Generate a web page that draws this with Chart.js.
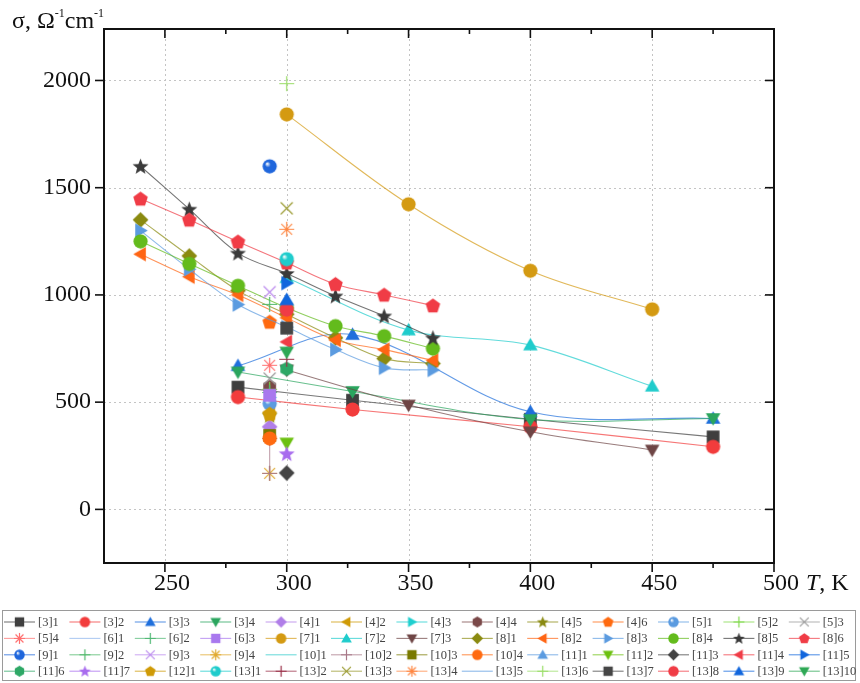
<!DOCTYPE html>
<html><head><meta charset="utf-8">
<script src="https://cdn.jsdelivr.net/npm/chart.js@4"></script>
<style>html,body{margin:0;padding:0;background:#fff}#wrap{width:860px;height:683px;position:relative}</style>
</head><body><div id="wrap"><canvas id="c" width="860" height="683"></canvas></div>
<script>
// ---------- data ----------
const xTicks = [250, 300, 350, 400, 450, 500];
const xMinor = [275, 325, 375, 425, 475];
const yTicks = [0, 500, 1000, 1500, 2000];

const T3 = [280, 327, 400, 475];
const s3_1 = [570, 509, 420, 338];
const s3_2 = [524, 466, 385, 292];
const s3_3 = [670, 815, 455, 424];
const s3_4 = [641, 550, 419, 424];

const T7 = [300, 350, 400, 450];
const s7_1 = [1842, 1423, 1113, 933];
const s7_2 = [1080, 836, 766, 574];
const s7_3 = [650, 487, 362, 277];

const T8 = [240, 260, 280, 300, 320, 340, 360];
const s8_1 = [1350, 1182, 1020, 910, 800, 703, 680];
const s8_2 = [1190, 1085, 1000, 893, 790, 745, 695];
const s8_3 = [1300, 1120, 955, 850, 745, 660, 650];
const s8_4 = [1250, 1145, 1043, 940, 855, 808, 750];
const s8_5 = [1600, 1400, 1195, 1100, 995, 902, 800];
const s8_6 = [1448, 1350, 1248, 1150, 1050, 1000, 950];

const T293 = [293];
const T300 = [300];
const s4_1 = [385], s4_2 = [450], s4_3 = [522], s4_4 = [571], s4_5 = [439], s4_6 = [874];
const s5_1 = [493], s5_2 = [560], s5_3 = [610], s5_4 = [672];
const s6_2 = [545], s6_3 = [532];
const s9_1 = [1600], s9_2 = [956], s9_3 = [1013], s9_4 = [168];
const T10_2 = [293, 293], s10_2 = [331, 168];
const s10_3 = [345], s10_4 = [331];
const s11_1 = [975], s11_2 = [310], s11_3 = [170], s11_4 = [781], s11_5 = [1055], s11_6 = [655], s11_7 = [260];
const s12_1 = [445];
const s13_1 = [1167], s13_2 = [700], s13_3 = [1404], s13_4 = [1306], s13_6 = [1985];
const s13_7 = [845], s13_8 = [932], s13_9 = [977], s13_10 = [734];
const none = [];

const names = ['[3]1','[3]2','[3]3','[3]4','[4]1','[4]2','[4]3','[4]4','[4]5','[4]6','[5]1','[5]2','[5]3',
 '[5]4','[6]1','[6]2','[6]3','[7]1','[7]2','[7]3','[8]1','[8]2','[8]3','[8]4','[8]5','[8]6',
 '[9]1','[9]2','[9]3','[9]4','[10]1','[10]2','[10]3','[10]4','[11]1','[11]2','[11]3','[11]4','[11]5',
 '[11]6','[11]7','[12]1','[13]1','[13]2','[13]3','[13]4','[13]5','[13]6','[13]7','[13]8','[13]9','[13]10'];
const xs = [T3,T3,T3,T3,T293,T293,T293,T293,T293,T293,T293,T293,T293,
 T293,none,T293,T293,T7,T7,T7,T8,T8,T8,T8,T8,T8,
 T293,T293,T293,T293,none,T10_2,T293,T293,T300,T300,T300,T300,T300,
 T300,T300,T293,T300,T300,T300,T300,none,T300,T300,T300,T300,T300];
const ys = [s3_1,s3_2,s3_3,s3_4,s4_1,s4_2,s4_3,s4_4,s4_5,s4_6,s5_1,s5_2,s5_3,
 s5_4,none,s6_2,s6_3,s7_1,s7_2,s7_3,s8_1,s8_2,s8_3,s8_4,s8_5,s8_6,
 s9_1,s9_2,s9_3,s9_4,none,s10_2,s10_3,s10_4,s11_1,s11_2,s11_3,s11_4,s11_5,
 s11_6,s11_7,s12_1,s13_1,s13_2,s13_3,s13_4,none,s13_6,s13_7,s13_8,s13_9,s13_10];

// ---------- styles ----------
const shapes = ['square','circle','triUp','triDown','diamond','triLeft','triRight','hexagon','star5','pentagon','sphere','plus','cross',
 'asterisk','none','plus','square','circle','triUp','triDown','diamond','triLeft','triRight','circle','star5','pentagon',
 'sphere','plus','cross','asterisk','none','plus','square','circle','triUp','triDown','diamond','triLeft','triRight',
 'hexagon','star5','pentagon','sphere','plus','cross','asterisk','none','plus','square','circle','triUp','triDown'];
const colors = ['#3f3f3f','#f23c3c','#1f6fdc','#2aa55e','#b07ee8','#cf9a06','#1fcfcf','#7a4848','#8a8a12','#ff6a10','#5b9be0','#7fd84a','#9a9a9a',
 '#ff7070','#8fb5ec','#4fb874','#a878ee','#d49a12','#1fcccc','#6e4545','#8a8a10','#ff6514','#5b9be0','#63bb1c','#3a3a3a','#f03c46',
 '#1f66dc','#4fb86a','#bb8aee','#e0aa30','#33cccc','#a87888','#7a7a00','#ff6a10','#5b9be0','#6cc010','#444444','#f03c46','#1166dd',
 '#2ea866','#a86cee','#cf9a06','#1fcccc','#9a3048','#9a9a30','#ff8844','#5b9be0','#99dd66','#454545','#f03c46','#1166dd','#2ea855'];

function makeMarker(shape, color, size){
  if (shape === 'none') return false;
  const pad = 2, S = Math.ceil(size + pad*2);
  const cv = document.createElement('canvas'); cv.width = S; cv.height = S;
  const g = cv.getContext('2d'); const c = S/2, r = size/2;
  g.fillStyle = color; g.strokeStyle = color; g.lineWidth = 1.2;
  const poly = (n, rot, rr, dy) => { g.beginPath();
    for (let i=0;i<n;i++){ const a = rot + i*2*Math.PI/n; const px = c + rr*Math.cos(a), py = c + (dy||0) + rr*Math.sin(a); i ? g.lineTo(px,py) : g.moveTo(px,py); }
    g.closePath(); g.fill(); };
  switch(shape){
    case 'square': g.fillRect(c-r*0.85, c-r*0.85, r*1.7, r*1.7); break;
    case 'circle': g.beginPath(); g.arc(c,c,r*0.95,0,2*Math.PI); g.fill(); break;
    case 'triUp': poly(3,-Math.PI/2,r*1.12,r*0.15); break;
    case 'triDown': poly(3,Math.PI/2,r*1.12,-r*0.15); break;
    case 'triLeft': g.save(); g.translate(r*0.15,0); poly(3,Math.PI,r*1.12); g.restore(); break;
    case 'triRight': g.save(); g.translate(-r*0.15,0); poly(3,0,r*1.12); g.restore(); break;
    case 'diamond': poly(4,-Math.PI/2,r*1.05); break;
    case 'pentagon': poly(5,-Math.PI/2,r*1.02,r*0.06); break;
    case 'hexagon': poly(6,-Math.PI/2,r*0.98); break;
    case 'star5': { g.beginPath(); for (let i=0;i<10;i++){ const a=-Math.PI/2+i*Math.PI/5; const rr = i%2 ? r*0.48 : r*1.12; const px=c+rr*Math.cos(a), py=c+r*0.08+rr*Math.sin(a); i?g.lineTo(px,py):g.moveTo(px,py);} g.closePath(); g.fill(); break; }
    case 'sphere': { const gr = g.createRadialGradient(c-r*0.35,c-r*0.35,r*0.05,c,c,r); gr.addColorStop(0,'#ffffff'); gr.addColorStop(0.35,color); gr.addColorStop(1,color); g.fillStyle = gr; g.beginPath(); g.arc(c,c,r*0.95,0,2*Math.PI); g.fill(); break; }
    case 'plus': g.beginPath(); g.moveTo(c-r,c); g.lineTo(c+r,c); g.moveTo(c,c-r); g.lineTo(c,c+r); g.stroke(); break;
    case 'cross': g.beginPath(); g.moveTo(c-r*0.8,c-r*0.8); g.lineTo(c+r*0.8,c+r*0.8); g.moveTo(c+r*0.8,c-r*0.8); g.lineTo(c-r*0.8,c+r*0.8); g.stroke(); break;
    case 'asterisk': g.beginPath(); g.moveTo(c-r,c); g.lineTo(c+r,c); g.moveTo(c,c-r); g.lineTo(c,c+r);
      g.moveTo(c-r*0.72,c-r*0.72); g.lineTo(c+r*0.72,c+r*0.72); g.moveTo(c+r*0.72,c-r*0.72); g.lineTo(c-r*0.72,c+r*0.72); g.stroke();
      g.beginPath(); g.arc(c,c,1.3,0,2*Math.PI); g.fill(); break;
  }
  return cv;
}
function alpha(hex, a){ const n = parseInt(hex.slice(1),16); return `rgba(${n>>16},${(n>>8)&255},${n&255},${a})`; }

const plotMarkers = names.map((n,i)=>makeMarker(shapes[i], colors[i], 15));
const legendMarkers = names.map((n,i)=>makeMarker(shapes[i], colors[i], 11));

const datasets = names.map((n,i)=>({
  label: n,
  data: xs[i].map((t,k)=>({x:t, y:ys[i][k]})),
  showLine: true,
  borderColor: alpha(colors[i], 0.7),
  borderWidth: 1.1,
  tension: 0.35,
  pointStyle: plotMarkers[i],
  pointRadius: 7,
  backgroundColor: colors[i],
  order: -i
}));

const SERIF = '"Liberation Serif", "Times New Roman", serif';

const framePlugin = {
  id: 'frame',
  beforeDatasetsDraw(chart){
    const {ctx, chartArea:a, scales:{x,y}} = chart;
    ctx.save(); ctx.strokeStyle = '#c4c4c4'; ctx.lineWidth = 1; ctx.setLineDash([2,3]);
    xTicks.filter(v=>v<500).forEach(v=>{ const p = Math.round(x.getPixelForValue(v))+0.5; ctx.beginPath(); ctx.moveTo(p,a.top); ctx.lineTo(p,a.bottom); ctx.stroke(); });
    yTicks.forEach(v=>{ const p = Math.round(y.getPixelForValue(v))+0.5; ctx.beginPath(); ctx.moveTo(a.left,p); ctx.lineTo(a.right,p); ctx.stroke(); });
    ctx.restore();
  },
  afterDraw(chart){
    const {ctx, chartArea:a, scales:{x,y}} = chart;
    ctx.save();
    // frame
    ctx.strokeStyle = '#111'; ctx.lineWidth = 2; ctx.setLineDash([]);
    ctx.strokeRect(a.left, a.top, a.right-a.left, a.bottom-a.top);
    ctx.lineWidth = 1.6;
    const tk = (x1,y1,x2,y2)=>{ ctx.beginPath(); ctx.moveTo(x1,y1); ctx.lineTo(x2,y2); ctx.stroke(); };
    xTicks.forEach(v=>{ const p = x.getPixelForValue(v); tk(p,a.bottom,p,a.bottom+9); tk(p,a.top,p,a.top+9); });
    xMinor.forEach(v=>{ const p = x.getPixelForValue(v); tk(p,a.bottom,p,a.bottom+5); tk(p,a.top,p,a.top+5); });
    yTicks.forEach(v=>{ const p = y.getPixelForValue(v); tk(a.left-9,p,a.left,p); tk(a.right-9,p,a.right,p); });
    // axis titles
    ctx.fillStyle = '#111'; ctx.textBaseline = 'alphabetic';
    let cx = 12; const by = 28;
    const put = (t, f, dy) => { ctx.font = f; ctx.fillText(t, cx, by+dy); cx += ctx.measureText(t).width; };
    put('σ, Ω', '24px '+SERIF, 0); put('-1', '12px '+SERIF, -11); put('cm', '24px '+SERIF, 0); put('-1', '12px '+SERIF, -11);
    ctx.textBaseline = 'middle';
    ctx.font = 'italic 24px '+SERIF; ctx.fillText('T', 806, 584);
    const tw = ctx.measureText('T').width;
    ctx.font = '24px '+SERIF; ctx.fillText(', K', 806+tw, 584);
    // legend
    ctx.strokeStyle = '#9a9a9a'; ctx.lineWidth = 1;
    ctx.strokeRect(2.5, 610.5, 853, 70);
    ctx.font = '12.5px '+SERIF; ctx.textBaseline = 'middle'; ctx.textAlign = 'left';
    names.forEach((n,i)=>{
      const col = i % 13, row = Math.floor(i/13);
      const x0 = 4 + col*65.4, yy = 622 + row*16.4;
      ctx.strokeStyle = alpha(colors[i], 0.7); ctx.lineWidth = 1.1;
      ctx.beginPath(); ctx.moveTo(x0, yy); ctx.lineTo(x0+31, yy); ctx.stroke();
      if (legendMarkers[i]) Chart.helpers.drawPoint(ctx, {pointStyle: legendMarkers[i], radius: 5.5, rotation: 0, borderWidth: 0}, x0+15.5, yy);
      ctx.fillStyle = '#444'; ctx.fillText(n, x0+34, yy+0.5);
    });
    ctx.restore();
  }
};

new Chart(document.getElementById('c').getContext('2d'), {
  type: 'scatter',
  data: { datasets },
  options: {
    responsive: false, animation: false, devicePixelRatio: 1,
    layout: { padding: { left: 0, right: 86, top: 29, bottom: 0 } },
    plugins: { legend: { display: false }, tooltip: { enabled: false } },
    scales: {
      x: { type: 'linear', min: 225, max: 500,
        afterFit(s){ s.height = 120; },
        afterBuildTicks(s){ s.ticks = xTicks.map(v=>({value:v})); },
        ticks: { font: { family: SERIF, size: 24 }, color: '#111', padding: 6, labelOffset: 7, maxRotation: 0, autoSkip: false, callback: v => String(v) },
        grid: { display: false, drawTicks: false }, border: { display: false } },
      y: { type: 'linear', min: -250, max: 2240,
        afterFit(s){ s.width = 104; },
        afterBuildTicks(s){ s.ticks = yTicks.map(v=>({value:v})); },
        ticks: { font: { family: SERIF, size: 24 }, color: '#111', padding: 13, autoSkip: false, callback: v => String(v) },
        grid: { display: false, drawTicks: false }, border: { display: false } }
    }
  },
  plugins: [framePlugin]
});
</script>
</body></html>
